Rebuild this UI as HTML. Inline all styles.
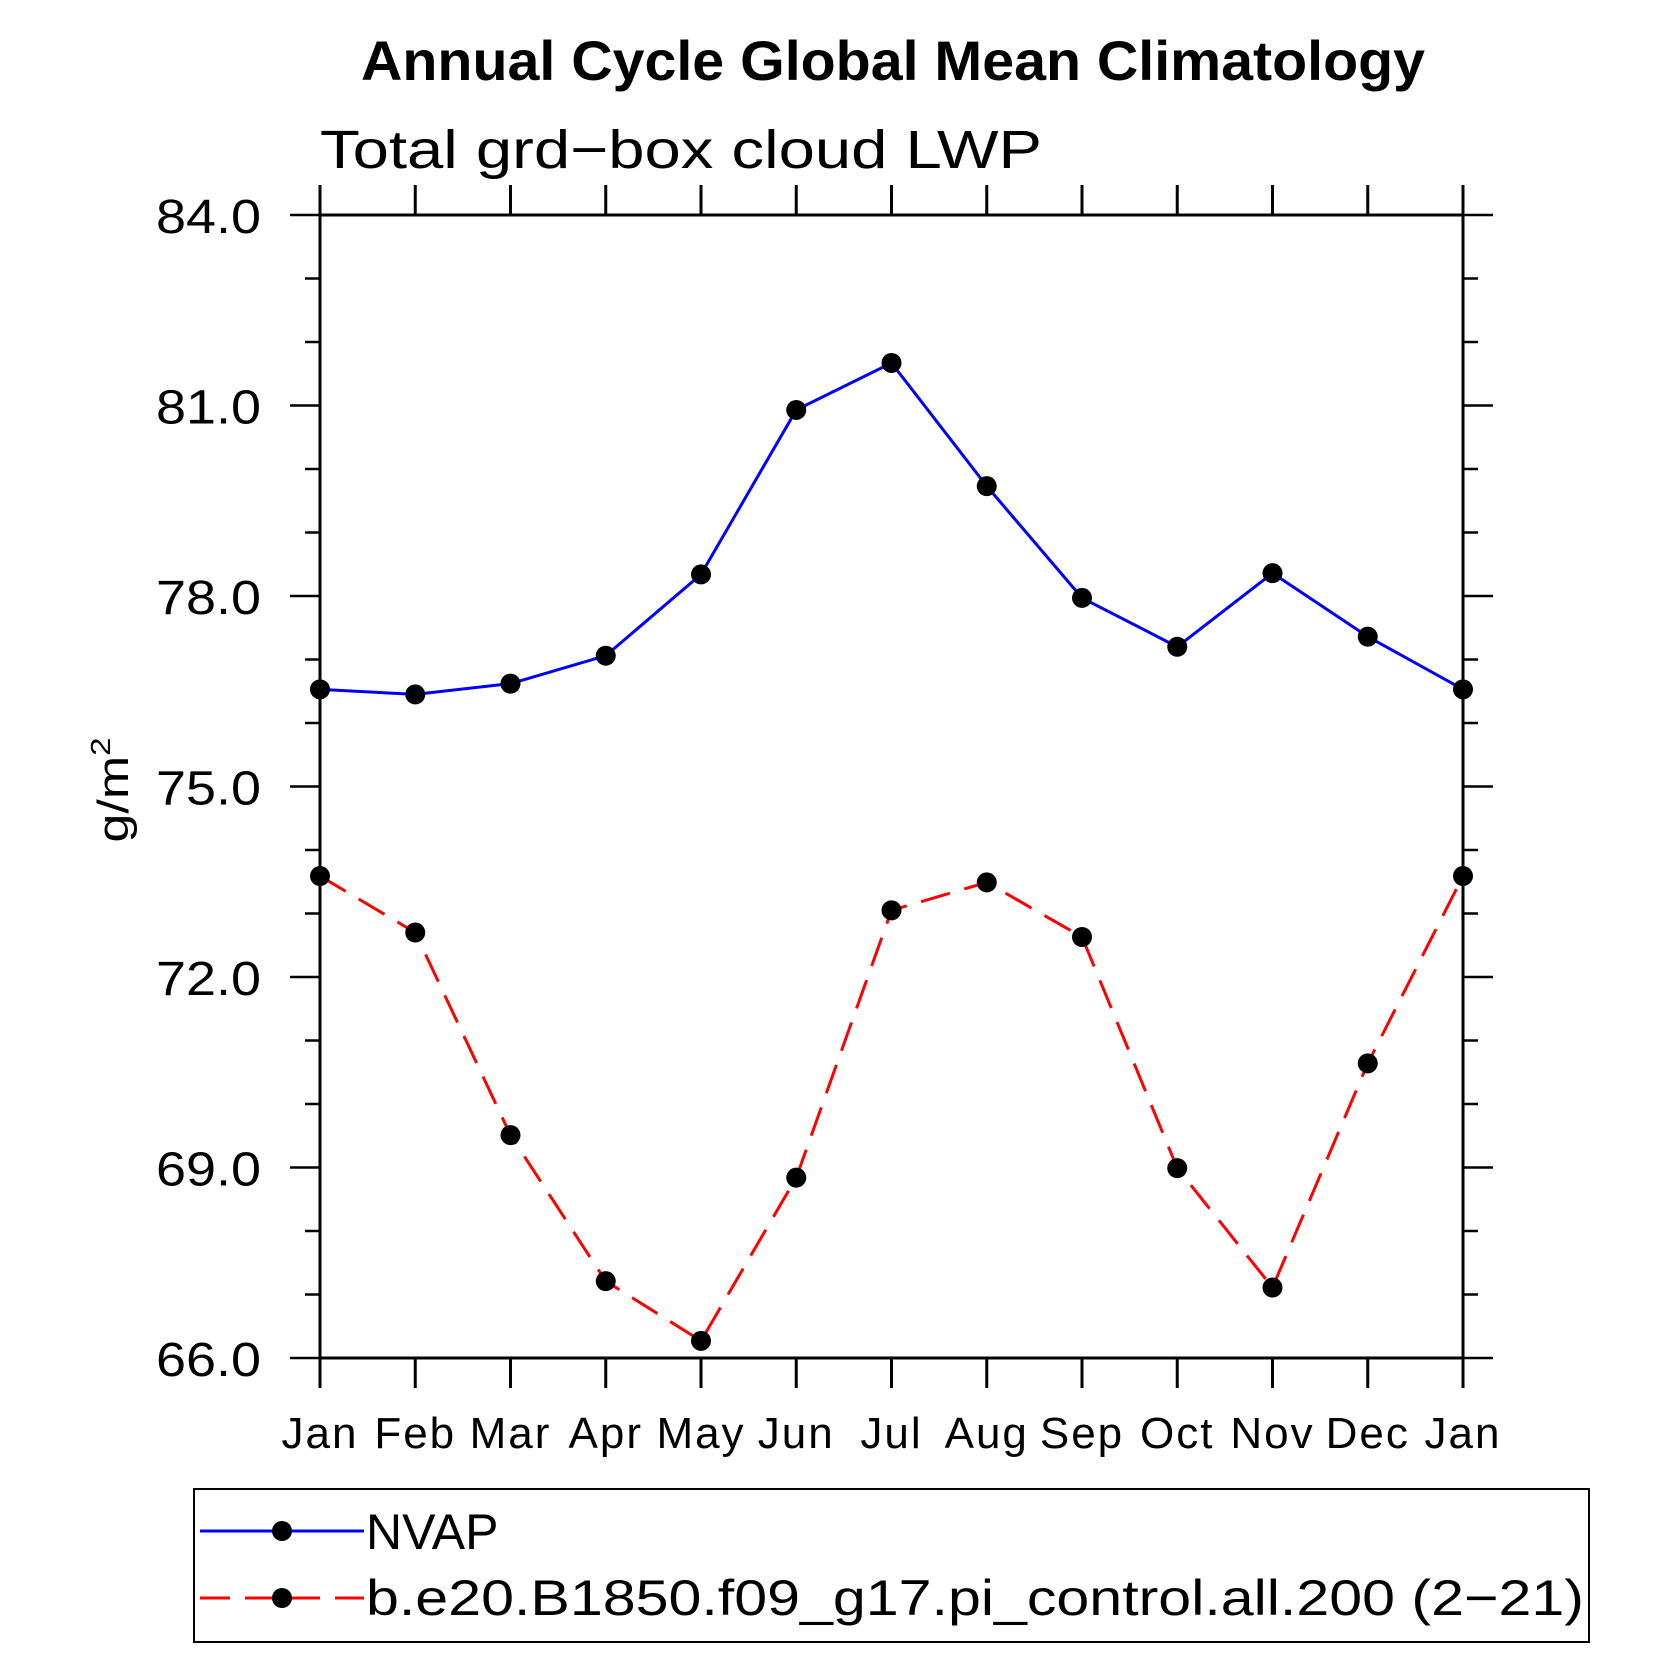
<!DOCTYPE html>
<html><head><meta charset="utf-8"><style>
html,body{margin:0;padding:0;background:#fff;}
svg{display:block;}
text{font-family:"Liberation Sans",sans-serif;}
</style></head><body>
<svg id="chart" width="1680" height="1680" viewBox="0 0 1680 1680" xmlns="http://www.w3.org/2000/svg">
<text x="893" y="80" text-anchor="middle" font-size="56" font-weight="bold" textLength="1064" lengthAdjust="spacingAndGlyphs">Annual Cycle Global Mean Climatology</text>
<text x="320" y="168" font-size="54" fill="#000" textLength="722" lengthAdjust="spacingAndGlyphs">Total grd−box cloud LWP</text>
<text transform="translate(128,790) rotate(-90)" text-anchor="middle" font-size="44" textLength="105" lengthAdjust="spacingAndGlyphs">g/m<tspan dy="-18" font-size="28">2</tspan></text>
<g id="axes"></g>
<g id="series"></g>
<g>
<rect x="194" y="1489" width="1395" height="153" fill="none" stroke="#000" stroke-width="2"/>
<line x1="200" y1="1531" x2="364" y2="1531" stroke="#0000ff" stroke-width="3"/>
<circle cx="282" cy="1531" r="10"/>
<text x="366" y="1549" font-size="50">NVAP</text>
<line x1="200" y1="1598" x2="364" y2="1598" stroke="#ff0000" stroke-width="3" stroke-dasharray="30,15"/>
<circle cx="282" cy="1598" r="10"/>
<text x="366" y="1615" font-size="50" textLength="1218" lengthAdjust="spacingAndGlyphs">b.e20.B1850.f09_g17.pi_control.all.200 (2−21)</text>
</g>
</svg>
<script>
const months=["Jan","Feb","Mar","Apr","May","Jun","Jul","Aug","Sep","Oct","Nov","Dec","Jan"];
const nvapValues=[76.53,76.45,76.62,77.06,78.34,80.93,81.67,79.73,77.97,77.2,78.36,77.36,76.53];
const modelValues=[73.59,72.70,69.51,67.21,66.27,68.84,73.05,73.49,72.63,68.99,67.11,70.64,73.59];
const yTickLabels=["66.0","69.0","72.0","75.0","78.0","81.0","84.0"];
const yMin=66,yMax=84;
const L=320,R=1463,T=215,B=1358;
const NS="http://www.w3.org/2000/svg";
function xPos(i){return L+(R-L)*i/(months.length-1);}
function yPos(v){return B-(B-T)*(v-yMin)/(yMax-yMin);}
function mk(tag,attrs,parent){const e=document.createElementNS(NS,tag);for(const k in attrs)e.setAttribute(k,attrs[k]);parent.appendChild(e);return e;}
const axes=document.getElementById('axes');
let frame=mk('rect',{x:L,y:T,width:R-L,height:B-T,fill:'none',stroke:'#000','stroke-width':3},axes);


for(let i=0;i<months.length;i++){
  const x=xPos(i);
  let t1=mk('line',{x1:x,y1:B,x2:x,y2:B+30,stroke:'#000','stroke-width':3},axes);
  
  
  let t2=mk('line',{x1:x,y1:T,x2:x,y2:T-30,stroke:'#000','stroke-width':3},axes);
  
  
  let lb=mk('text',{x:x,y:1448,'text-anchor':'middle','font-size':44,'letter-spacing':2},axes);
  lb.textContent=months[i];
  
  
}
for(let v=yMin;v<=yMax;v++){
  const y=yPos(v);const major=(v-yMin)%3===0;const len=major?30:15;
  let a=mk('line',{x1:L-len,y1:y,x2:L,y2:y,stroke:'#000','stroke-width':2.5},axes);
  
  
  let b=mk('line',{x1:R,y1:y,x2:R+len,y2:y,stroke:'#000','stroke-width':2.5},axes);
  
  
}
yTickLabels.forEach(s=>{
  const y=yPos(parseFloat(s));
  let t=mk('text',{x:261,y:y+18,'text-anchor':'end','font-size':48,textLength:105,lengthAdjust:'spacingAndGlyphs'},axes);
  t.textContent=s;
  
  
});
const series=document.getElementById('series');
function drawSeries(vals,color,dash,name){
  const pts=vals.map((v,i)=>xPos(i)+','+yPos(v)).join(' ');
  const attrs={points:pts,fill:'none',stroke:color,'stroke-width':3};
  if(dash)attrs['stroke-dasharray']=dash;
  let pl=mk('polyline',attrs,series);
  
  
  vals.forEach((v,i)=>{
    let c=mk('circle',{cx:xPos(i),cy:yPos(v),r:10,fill:'#000'},series);
    
    
  });
}
drawSeries(nvapValues,'#0000ff',null,'nvap');
drawSeries(modelValues,'#ff0000','30,15','model');
</script>
</body></html>
